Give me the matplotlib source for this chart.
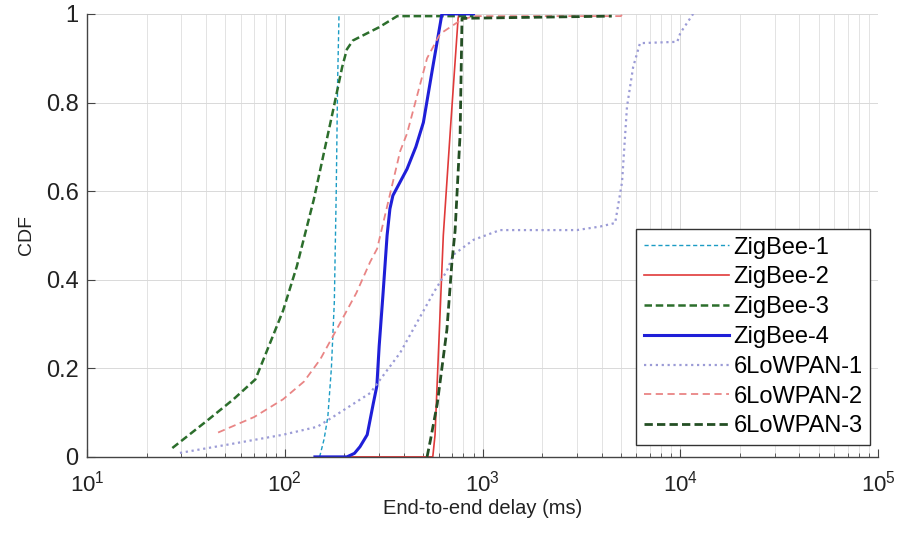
import matplotlib
matplotlib.use('Agg')

import numpy as np
import matplotlib.pyplot as plt
from matplotlib.ticker import FixedLocator, LogLocator, NullFormatter

plt.rcParams['font.family'] = ['Liberation Sans', 'DejaVu Sans']
plt.rcParams['mathtext.fontset'] = 'custom'
plt.rcParams['mathtext.rm'] = 'Liberation Sans'

# end-to-end delay (ms) / CDF values
zb1_x = [150, 158, 165, 172, 178, 182, 185, 188]
zb1_y = [0.0, 0.04, 0.09, 0.2, 0.35, 0.6, 0.85, 1.0]

zb2_x = [210, 560, 575, 600, 633, 690, 752, 760]
zb2_y = [0.0, 0.0, 0.05, 0.25, 0.5, 0.75, 0.99, 1.0]

zb3_x = [27, 40, 55, 71, 78, 98, 115, 140, 175, 195, 206, 221, 300, 370, 900]
zb3_y = [0.02, 0.08, 0.13, 0.175, 0.22, 0.33, 0.43, 0.58, 0.78, 0.88, 0.92, 0.94, 0.97, 0.995, 0.995]

zb4_x = [142, 206, 225, 240, 261, 280, 292, 300, 314, 329, 340, 352, 415, 460, 502, 560, 623, 900]
zb4_y = [0.0, 0.0, 0.008, 0.023, 0.05, 0.12, 0.16, 0.25, 0.37, 0.5, 0.56, 0.59, 0.65, 0.7, 0.755, 0.88, 1.0, 1.0]

lp1_x = [29.5, 55, 98, 146, 175, 270, 383, 564, 660, 710, 900, 1225, 2000, 3000, 3930, 4680,
         5070, 5370, 5770, 6250, 9640, 10000, 11600]
lp1_y = [0.009, 0.03, 0.05, 0.068, 0.09, 0.144, 0.235, 0.37, 0.42, 0.456, 0.49, 0.512, 0.512, 0.512,
         0.52, 0.528, 0.62, 0.79, 0.88, 0.934, 0.937, 0.957, 1.0]

lp2_x = [46, 70, 98, 125, 151, 184, 230, 270, 293, 383, 415, 524, 610, 770, 900, 5000, 5100]
lp2_y = [0.055, 0.09, 0.13, 0.17, 0.22, 0.29, 0.37, 0.44, 0.47, 0.69, 0.73, 0.9, 0.955, 0.985,
         0.995, 0.995, 1.0]

lp3_x = [524, 545, 590, 660, 700, 726, 770, 787, 4500]
lp3_y = [0.0, 0.038, 0.12, 0.287, 0.44, 0.51, 0.73, 0.99, 0.995]

xtick_vals = [1e1, 1e2, 1e3, 1e4, 1e5]
xtick_text = [r'$\mathregular{10^{1}}$', r'$\mathregular{10^{2}}$', r'$\mathregular{10^{3}}$',
              r'$\mathregular{10^{4}}$', r'$\mathregular{10^{5}}$']

fig = plt.figure(figsize=(8.97, 5.35), dpi=100)
ax = fig.add_axes([0.097, 0.146, 0.882, 0.828])

ax.plot(zb1_x, zb1_y, color='#1b9cc4', ls='--', lw=1.0, dashes=(3, 2), label='ZigBee-1')
ax.plot(zb2_x, zb2_y, color='#e03a3a', ls='-', lw=1.2, label='ZigBee-2')
ax.plot(zb3_x, zb3_y, color='#2c6e2c', ls='--', lw=1.8, dashes=(3, 1.5), label='ZigBee-3')
ax.plot(zb4_x, zb4_y, color='#1f1fd8', ls='-', lw=2.2, label='ZigBee-4')
ax.plot(lp1_x, lp1_y, color='#9b9bd6', ls=':', lw=1.6, label='6LoWPAN-1')
ax.plot(lp2_x, lp2_y, color='#e98585', ls='--', lw=1.3, dashes=(4, 2.5), label='6LoWPAN-2')
ax.plot(lp3_x, lp3_y, color='#244f24', ls='--', lw=2.0, dashes=(3, 1.5), label='6LoWPAN-3')

ax.set_xscale('log')
ax.set_xlim(10, 1e5)
ax.set_ylim(0, 1)

ax.xaxis.set_major_locator(FixedLocator(xtick_vals))
ax.xaxis.set_minor_locator(LogLocator(base=10, subs=np.arange(2, 10)))
ax.xaxis.set_minor_formatter(NullFormatter())
ax.set_xticklabels(xtick_text)
ax.set_yticks([0, 0.2, 0.4, 0.6, 0.8, 1.0])
ax.set_yticklabels(['0', '0.2', '0.4', '0.6', '0.8', '1'])

ax.grid(True, which='major', color='#d9d9d9', lw=0.7)
ax.grid(True, which='minor', axis='x', color='#dedede', lw=0.6)
ax.set_axisbelow(True)

for s in ['top', 'right']:
    ax.spines[s].set_visible(False)
for s in ['left', 'bottom']:
    ax.spines[s].set_color('#444444')
    ax.spines[s].set_linewidth(1.0)

ax.tick_params(which='both', direction='in', colors='#444444', labelcolor='#222222')
ax.tick_params(which='major', length=6)
ax.tick_params(which='minor', length=3)
ax.tick_params(axis='y', labelsize=17, pad=6)
ax.tick_params(axis='x', labelsize=16, pad=10)

ax.set_xlabel('End-to-end delay (ms)', fontsize=14.5, color='#222222', labelpad=2)
ax.set_ylabel('CDF', fontsize=14, color='#222222', labelpad=8)

leg = ax.legend(loc='lower right', bbox_to_anchor=(0.99, 0.027), fontsize=17,
                handlelength=3.6, handletextpad=0.2, labelspacing=0.33, borderpad=0.32,
                borderaxespad=0, fancybox=False, framealpha=1)
leg.get_frame().set_edgecolor('#333333')
leg.get_frame().set_linewidth(1.0)

plt.savefig('out.png', dpi=100)
